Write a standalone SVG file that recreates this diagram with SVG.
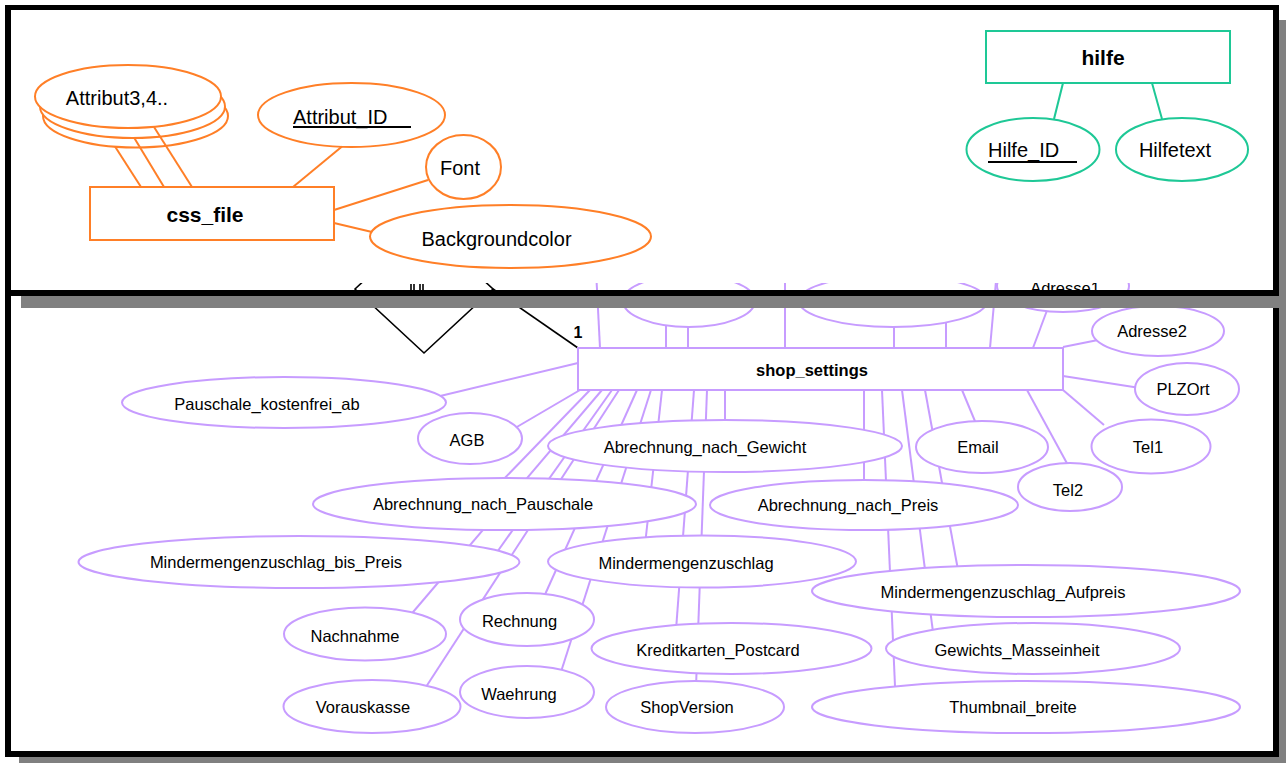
<svg xmlns="http://www.w3.org/2000/svg" width="1286" height="763" viewBox="0 0 1286 763">
<style>
.blk{fill:#000}
.sh{fill:#808080}
.oe{fill:#fff;stroke:#FF7F27;stroke-width:2}
.te{fill:#fff;stroke:#1EC896;stroke-width:2}
.pe{fill:#fff;stroke:#C79CFF;stroke-width:2}
.ol line{stroke:#FF7F27;stroke-width:2}
.tl line{stroke:#1EC896;stroke-width:2}
.pl line{stroke:#C79CFF;stroke-width:2}
.kl{stroke:#000;stroke-width:1.6;fill:none}
text{font-family:"Liberation Sans",Arial,sans-serif;fill:#000;text-anchor:middle}
.tt{font-size:20px}
.tb{font-size:21px;font-weight:bold}
.bt{font-size:16.5px}
.bb{font-size:16.5px;font-weight:bold}
.ul{stroke:#000;stroke-width:2}
</style>
<defs>
<clipPath id="botclip"><rect x="11" y="283" width="1262" height="468"/></clipPath>
</defs>
<rect width="1286" height="763" fill="#fff"/>

<!-- bottom window frame -->
<g id="bottom-frame">
<rect class="sh" x="19" y="757" width="1267" height="6"/>
<rect class="sh" x="1279" y="308" width="7" height="455"/>
<rect class="blk" x="5" y="296" width="6" height="461"/>
<rect class="blk" x="5" y="751" width="1274" height="6"/>
<rect class="blk" x="1273" y="296" width="6" height="461"/>
</g>

<g id="bottom-diagram" clip-path="url(#botclip)">
<g id="connectors-bottom" class="pl">
<line x1="580" y1="390" x2="510" y2="431"/>
<line x1="578" y1="363" x2="436" y2="397"/>
<line x1="590" y1="390" x2="500" y2="483"/>
<line x1="602" y1="390" x2="408" y2="618"/>
<line x1="612" y1="390" x2="495" y2="555"/>
<line x1="619" y1="390" x2="424" y2="690"/>
<line x1="637" y1="390" x2="543" y2="599"/>
<line x1="651" y1="390" x2="560" y2="675"/>
<line x1="662" y1="390" x2="645" y2="545"/>
<line x1="694" y1="390" x2="676" y2="630"/>
<line x1="707" y1="390" x2="696" y2="687"/>
<line x1="725" y1="390" x2="725" y2="425"/>
<line x1="864" y1="390" x2="864" y2="484"/>
<line x1="882" y1="390" x2="895" y2="686"/>
<line x1="902" y1="390" x2="934" y2="640"/>
<line x1="925" y1="390" x2="958" y2="570"/>
<line x1="962" y1="390" x2="977" y2="426"/>
<line x1="1027" y1="390" x2="1069" y2="467"/>
<line x1="1063" y1="390" x2="1104" y2="425"/>
<line x1="1063" y1="376" x2="1140" y2="388"/>
<line x1="1063" y1="347" x2="1098" y2="340"/>
<line x1="600" y1="348" x2="596" y2="270"/>
<line x1="666" y1="348" x2="666" y2="320"/>
<line x1="688" y1="348" x2="688" y2="320"/>
<line x1="785" y1="348" x2="785" y2="270"/>
<line x1="894" y1="348" x2="894" y2="320"/>
<line x1="946" y1="348" x2="946" y2="320"/>
<line x1="990" y1="348" x2="997" y2="270"/>
<line x1="1033" y1="348" x2="1049" y2="305"/>
</g>
<g id="relationship">
<polygon class="kl" points="355,289 424,225 493,289 424,353" fill="#fff"/>
<line class="kl" x1="493" y1="289" x2="578" y2="348"/>
<path class="kl" d="M411 284v6M414 284v6M420 284v6M423 284v6"/>
<text class="bb" x="578" y="338" style="font-size:16px">1</text>
</g>
<g id="hidden-a"><ellipse class="pe" cx="689" cy="301" rx="66" ry="26"/></g>
<g id="hidden-b"><ellipse class="pe" cx="893" cy="301" rx="94" ry="26"/></g>
<g id="adresse1"><ellipse class="pe" cx="1063" cy="286" rx="66" ry="26"/><text class="bt" x="1065" y="294">Adresse1</text></g>
<g id="shop_settings"><rect class="pe" x="578" y="348" width="485" height="42"/><text class="bb" x="812" y="376">shop_settings</text></g>
<g id="pauschale_kostenfrei_ab"><ellipse class="pe" cx="284" cy="402.5" rx="162" ry="25.5"/><text class="bt" x="267" y="410">Pauschale_kostenfrei_ab</text></g>
<g id="agb"><ellipse class="pe" cx="470" cy="438.5" rx="52" ry="25.5"/><text class="bt" x="467" y="446">AGB</text></g>
<g id="abrechnung_nach_gewicht"><ellipse class="pe" cx="725" cy="446" rx="177" ry="26"/><text class="bt" x="705" y="453">Abrechnung_nach_Gewicht</text></g>
<g id="email"><ellipse class="pe" cx="982" cy="447" rx="66" ry="26"/><text class="bt" x="978" y="453">Email</text></g>
<g id="tel1"><ellipse class="pe" cx="1151" cy="446.5" rx="59.5" ry="27"/><text class="bt" x="1148" y="453">Tel1</text></g>
<g id="plzort"><ellipse class="pe" cx="1187" cy="389" rx="52" ry="26"/><text class="bt" x="1183" y="395">PLZOrt</text></g>
<g id="adresse2"><ellipse class="pe" cx="1158" cy="331" rx="66" ry="25"/><text class="bt" x="1152" y="337">Adresse2</text></g>
<g id="tel2"><ellipse class="pe" cx="1070" cy="487" rx="52" ry="24"/><text class="bt" x="1068" y="496">Tel2</text></g>
<g id="abrechnung_nach_preis"><ellipse class="pe" cx="864" cy="505" rx="154" ry="25"/><text class="bt" x="848" y="511">Abrechnung_nach_Preis</text></g>
<g id="abrechnung_nach_pauschale"><ellipse class="pe" cx="504.5" cy="504" rx="191.5" ry="26"/><text class="bt" x="483" y="510">Abrechnung_nach_Pauschale</text></g>
<g id="mindermengenzuschlag_bis_preis"><ellipse class="pe" cx="299" cy="562" rx="220.5" ry="26"/><text class="bt" x="276" y="568">Mindermengenzuschlag_bis_Preis</text></g>
<g id="mindermengenzuschlag"><ellipse class="pe" cx="702" cy="561.5" rx="154" ry="26"/><text class="bt" x="686" y="569">Mindermengenzuschlag</text></g>
<g id="mindermengenzuschlag_aufpreis"><ellipse class="pe" cx="1026" cy="591" rx="214" ry="26"/><text class="bt" x="1003" y="598">Mindermengenzuschlag_Aufpreis</text></g>
<g id="nachnahme"><ellipse class="pe" cx="365" cy="634" rx="81" ry="26.5"/><text class="bt" x="355" y="642">Nachnahme</text></g>
<g id="rechnung"><ellipse class="pe" cx="527" cy="619.5" rx="67" ry="26.5"/><text class="bt" x="519.5" y="627">Rechnung</text></g>
<g id="vorauskasse"><ellipse class="pe" cx="372" cy="706.5" rx="88.5" ry="26.5"/><text class="bt" x="363" y="713">Vorauskasse</text></g>
<g id="waehrung"><ellipse class="pe" cx="527" cy="692" rx="67" ry="26"/><text class="bt" x="519" y="700">Waehrung</text></g>
<g id="kreditkarten_postcard"><ellipse class="pe" cx="731.5" cy="648.5" rx="140" ry="25.5"/><text class="bt" x="718" y="656">Kreditkarten_Postcard</text></g>
<g id="shopversion"><ellipse class="pe" cx="695" cy="707" rx="89" ry="26"/><text class="bt" x="687" y="713">ShopVersion</text></g>
<g id="gewichts_masseinheit"><ellipse class="pe" cx="1033" cy="648.5" rx="147" ry="25.5"/><text class="bt" x="1017" y="656">Gewichts_Masseinheit</text></g>
<g id="thumbnail_breite"><ellipse class="pe" cx="1026" cy="707" rx="214" ry="26"/><text class="bt" x="1013" y="713">Thumbnail_breite</text></g>
</g>

<!-- top window -->
<g id="top-frame">
<rect class="sh" x="21" y="296" width="1265" height="12"/>
<rect class="sh" x="1279" y="20" width="7" height="288"/>
<rect fill="#fff" x="11" y="10" width="1262" height="273"/>
<rect class="blk" x="5" y="5" width="1274" height="5"/>
<rect class="blk" x="5" y="5" width="6" height="291"/>
<rect class="blk" x="1273" y="5" width="6" height="291"/>
<rect class="blk" x="5" y="290" width="1274" height="6"/>
</g>

<g id="attribut3-4">
<ellipse class="oe" cx="135.5" cy="116" rx="92.5" ry="31.5"/>
<ellipse class="oe" cx="132.5" cy="106.5" rx="92.5" ry="31.5"/>
<ellipse class="oe" cx="128" cy="96.5" rx="93" ry="31.5"/>
<text class="tt" x="117" y="105">Attribut3,4..</text>
</g>
<g id="attribut_id">
<ellipse class="oe" cx="351.5" cy="115" rx="93.5" ry="32"/>
<text class="tt" x="293" y="124" style="text-anchor:start">Attribut_ID</text>
<line class="ul" x1="293" y1="127" x2="411" y2="127"/>
</g>
<g id="font"><ellipse class="oe" cx="463.5" cy="167" rx="37.5" ry="32"/><text class="tt" x="460" y="175">Font</text></g>
<g id="backgroundcolor"><ellipse class="oe" cx="510.5" cy="236.5" rx="140.5" ry="31.5"/><text class="tt" x="496.5" y="246">Backgroundcolor</text></g>
<g id="css_file"><rect class="oe" x="90" y="187" width="244" height="53"/><text class="tb" x="205" y="222">css_file</text></g>

<g id="hilfe"><rect class="te" x="986" y="31" width="244" height="52"/><text class="tb" x="1103" y="65">hilfe</text></g>
<g id="hilfe_id">
<ellipse class="te" cx="1033" cy="149.5" rx="66.5" ry="31.5"/>
<text class="tt" x="988" y="157" style="text-anchor:start">Hilfe_ID</text>
<line class="ul" x1="988" y1="162" x2="1077" y2="162"/>
</g>
<g id="hilfetext"><ellipse class="te" cx="1182" cy="149.5" rx="66" ry="31.5"/><text class="tt" x="1175" y="157">Hilfetext</text></g>

<g id="connectors-top">
<g class="ol">
<line x1="141" y1="187" x2="115" y2="146.5"/>
<line x1="164" y1="187" x2="134" y2="137.5"/>
<line x1="192" y1="187" x2="154" y2="127"/>
<line x1="293" y1="187" x2="342" y2="146.5"/>
<line x1="334" y1="210" x2="428" y2="180"/>
<line x1="334" y1="223" x2="372" y2="232"/>
</g>
<g class="tl">
<line x1="1063" y1="83" x2="1054" y2="119"/>
<line x1="1152" y1="83" x2="1162" y2="119"/>
</g>
</g>
</svg>
